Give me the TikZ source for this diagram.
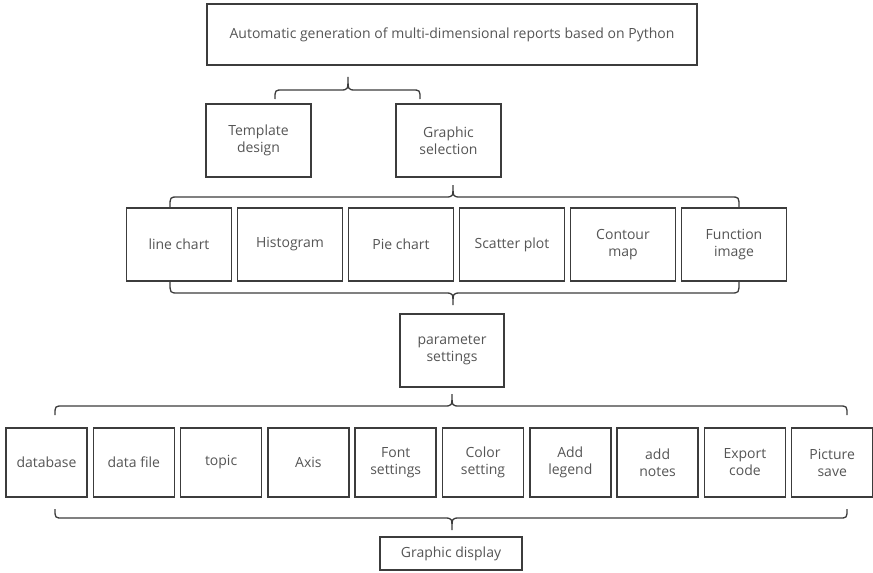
\documentclass[tikz,border=0pt]{standalone}
\usepackage{fontspec}
\setmainfont{Open Sans}
\definecolor{boxline}{HTML}{3C3C3C}
\definecolor{boxtext}{HTML}{555555}
% grouping brace: left x, right x, tip x, end y, line y, tip y
\newcommand{\groupbrace}[6]{%
  \draw[bracket] (#1,#4) .. controls (#1,#5) .. (#1+8,#5) -- (#3-8,#5)
    .. controls (#3,#5) .. (#3,#6) .. controls (#3,#5) .. (#3+8,#5)
    -- (#2-8,#5) .. controls (#2,#5) .. (#2,#4);}
\begin{document}
\begin{tikzpicture}[x=1pt,y=-1pt,
    box/.style={draw=boxline, line width=1.5pt, text=boxtext, align=center,
      inner sep=0pt, font=\fontsize{14}{17}\selectfont},
    bracket/.style={draw=boxline, line width=1.3pt}]
    \useasboundingbox (0,0) rectangle (873,573);
    %top level
    \node[box, minimum width=490pt, minimum height=61pt] (top) at (452,34.5)
      {Automatic generation of multi-dimensional reports based on Python};
    \node[box, minimum width=105pt, minimum height=73pt] (tpl) at (258.5,140.5)
      {Template\\design};
    \node[box, minimum width=105pt, minimum height=73pt] (gsel) at (448.5,140.5)
      {Graphic\\selection};
    %chart types
    \foreach \name/\txt [count=\i from 0] in {line/line chart, hist/Histogram,
        pie/Pie chart, scat/Scatter plot, cont/Contour\\map, func/Function\\image}
      \node[box, minimum width=105pt, minimum height=73pt] (\name) at (179+111*\i,244.5) {\txt};
    \node[box, minimum width=104pt, minimum height=73pt] (param) at (452,350.5)
      {parameter\\settings};
    %parameter items
    \foreach \name/\txt [count=\i from 0] in {db/database, file/data file, topic/topic,
        axis/Axis, font/Font\\settings, color/Color\\setting, legend/Add\\legend,
        notes/add\\notes, export/Export\\code, save/Picture\\save}
      \node[box, minimum width=81pt, minimum height=69pt] (\name) at (46.5+87.3*\i,462.5) {\txt};
    \node[box, minimum width=142pt, minimum height=33pt] (disp) at (451,553.5)
      {Graphic display};
    %braces
    \groupbrace{275}{420}{348}{99}{90}{77}
    \groupbrace{170}{739}{453}{207}{197}{185}
    \groupbrace{170}{739}{453}{282}{293}{305}
    \groupbrace{55}{847}{452}{415}{406}{394}
    \groupbrace{55}{847}{452}{509}{518}{530}
\end{tikzpicture}
\end{document}
